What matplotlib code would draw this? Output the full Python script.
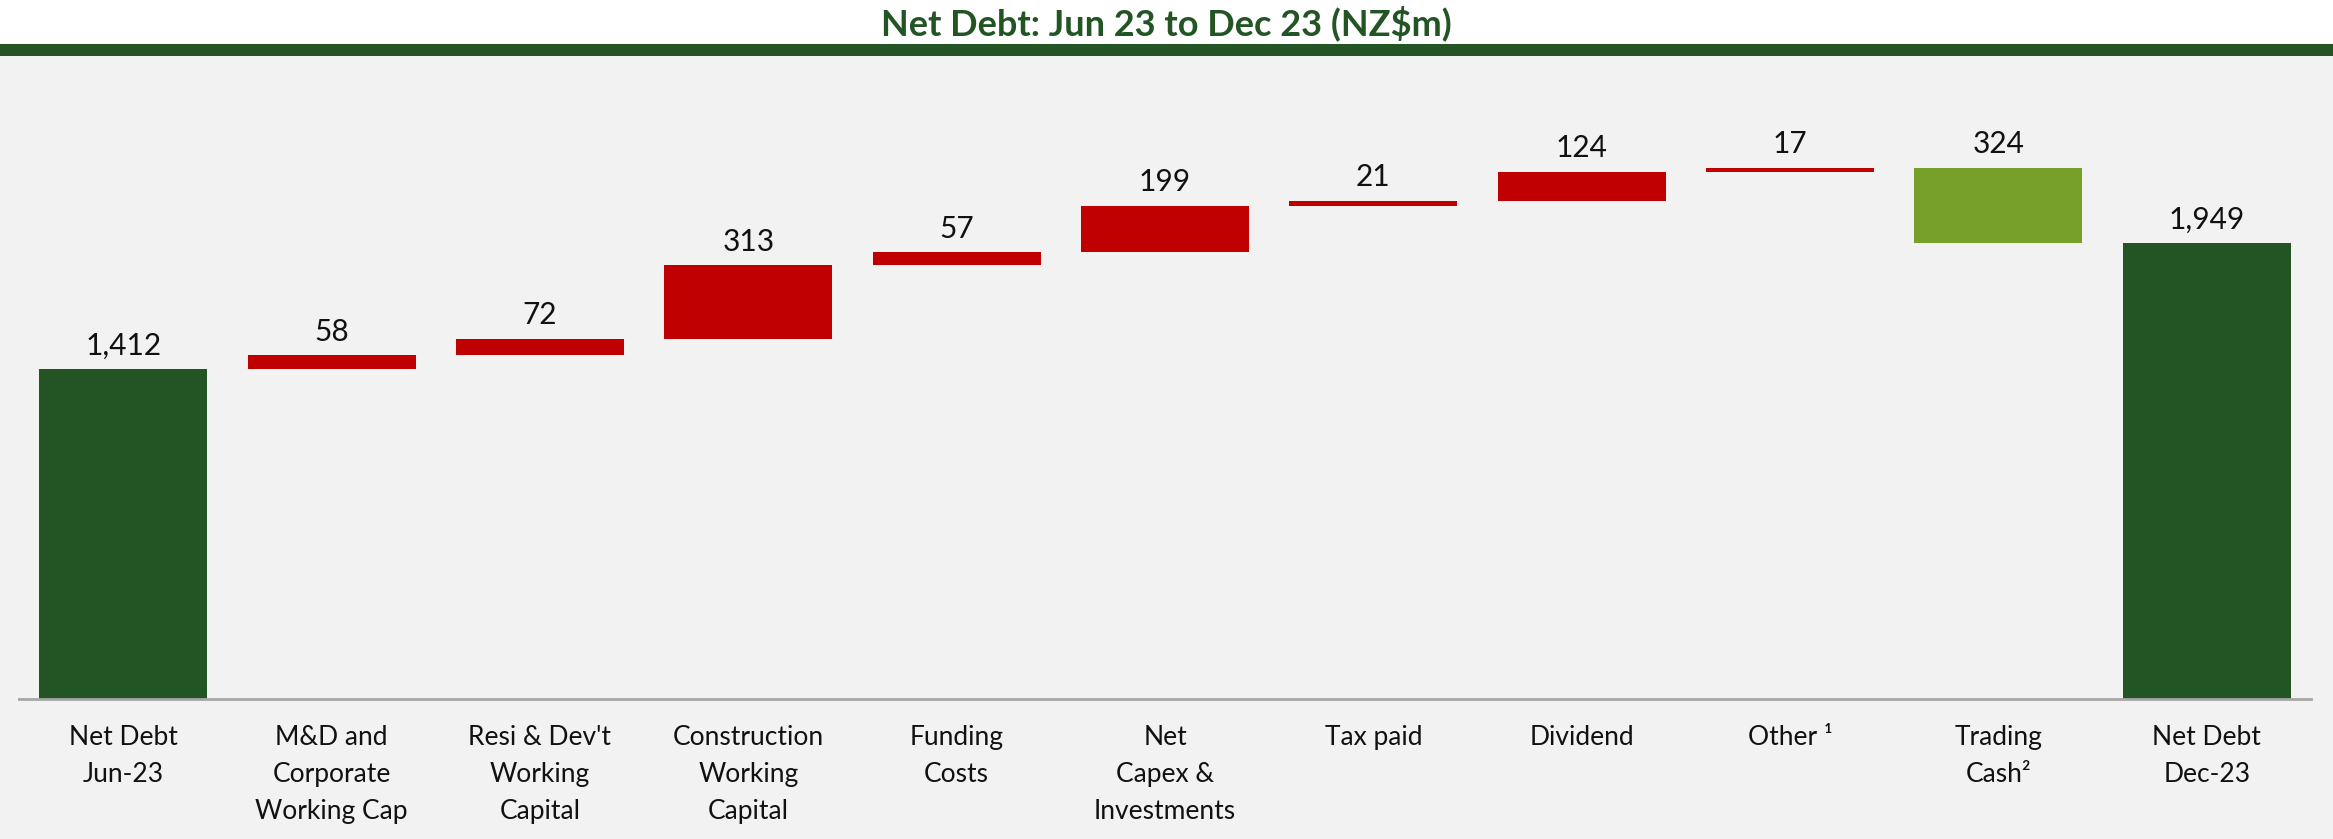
import matplotlib
matplotlib.use("Agg")
import matplotlib.pyplot as plt
from matplotlib.patches import Rectangle
import numpy as np

categories = ["Net Debt\nJun-23", "M&D and\nCorporate\nWorking Cap", "Resi & Dev't\nWorking\nCapital",
              "Construction\nWorking\nCapital", "Funding\nCosts", "Net\nCapex &\nInvestments",
              "Tax paid", "Dividend", "Other ¹", "Trading\nCash²", "Net Debt\nDec-23"]
start_value = 1412
changes = [58, 72, 313, 57, 199, 21, 124, 17, -324]
end_value = 1949
value_labels = ["1,412", "58", "72", "313", "57", "199", "21", "124", "17", "324", "1,949"]

DARK_GREEN = "#235524"
RED = "#C00000"
LIGHT_GREEN = "#77A02A"
BG = "#F2F2F2"

plt.rcParams['font.family'] = ['Lato', 'DejaVu Sans']

W, H = 2333, 839
fig = plt.figure(figsize=(W / 100, H / 100), dpi=100, facecolor=BG)

# header band
fig.patches.append(Rectangle((0, 1 - 44 / H), 1, 44 / H, transform=fig.transFigure,
                             facecolor="white", edgecolor="none", zorder=0))
fig.patches.append(Rectangle((0, 1 - 56 / H), 1, 12 / H, transform=fig.transFigure,
                             facecolor=DARK_GREEN, edgecolor="none", zorder=1))
fig.text(0.5, 1 - 23 / H, "Net Debt: Jun 23 to Dec 23 (NZ$m)", ha="center", va="center",
         fontsize=26, fontweight="bold", color=DARK_GREEN)

left_px, right_px = 19, 2311
bottom_px, top_px = 699, 56
ax = fig.add_axes([left_px / W, 1 - bottom_px / H, (right_px - left_px) / W, (bottom_px - top_px) / H])
ax.set_facecolor(BG)

n = len(categories)
x = np.arange(n)
cum = start_value + np.cumsum(changes)
prev = np.concatenate([[start_value], cum[:-1]])
bottoms = [0] + list(np.minimum(prev, cum)) + [0]
heights = [start_value] + list(np.abs(changes)) + [end_value]
colors = [DARK_GREEN] + [RED if c > 0 else LIGHT_GREEN for c in changes] + [DARK_GREEN]

ax.bar(x, heights, bottom=bottoms, width=0.806, color=colors, edgecolor="none", zorder=2)

for xi, b, h, lab in zip(x, bottoms, heights, value_labels):
    ax.annotate(lab, (xi, b + h), xytext=(0, 10.5), textcoords="offset points",
                ha="center", va="baseline", fontsize=21.5, color="#111111")

ax.set_xlim(-0.5, n - 0.5)
px_per_unit = 330 / 1412
ax.set_ylim(0, (bottom_px - top_px) / px_per_unit)
ax.set_xticks(x)
ax.set_xticklabels(categories, fontsize=19, linespacing=1.6, color="#111111")
ax.tick_params(axis="x", length=0, pad=19)
ax.set_yticks([])
for s in ["top", "right", "left"]:
    ax.spines[s].set_visible(False)
ax.spines["bottom"].set_color("#A6A6A6")
ax.spines["bottom"].set_linewidth(2)

fig.savefig("out.png", dpi=100, facecolor=BG)
